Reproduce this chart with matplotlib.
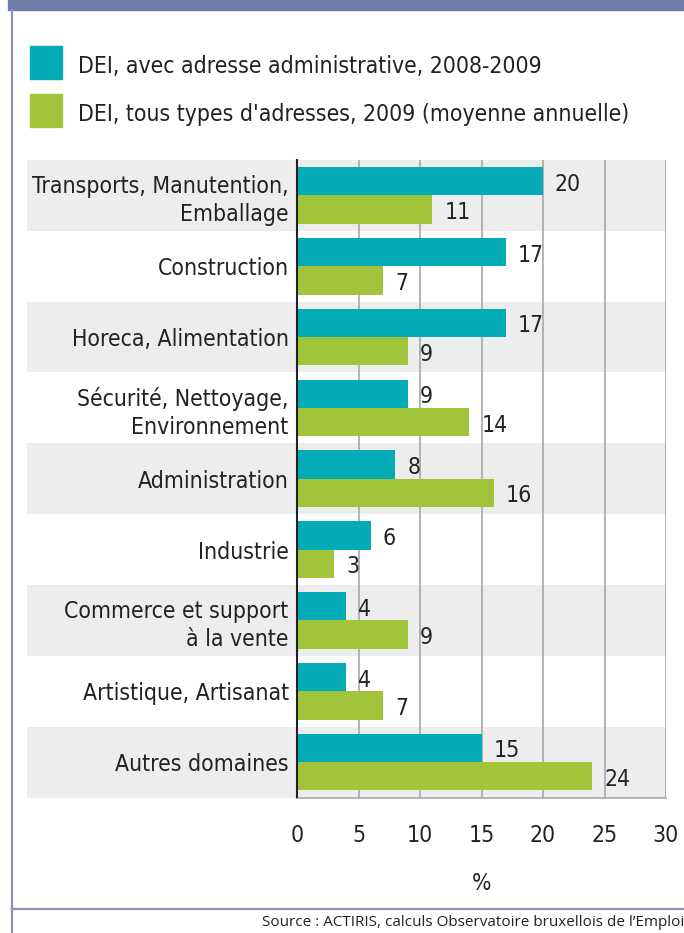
import numpy as np
import matplotlib.pyplot as plt
from matplotlib import font_manager as fm
from matplotlib.patches import Rectangle
from matplotlib.lines import Line2D
import matplotlib.transforms as mtransforms

# the original uses a condensed grotesque: take the narrowest installed match
names = {f.name for f in fm.fontManager.ttflist}
dv_cond = [f for f in fm.fontManager.ttflist
           if f.name == 'DejaVu Sans' and f.stretch in ('condensed', 'semi-condensed')]
if 'Liberation Sans Narrow' in names:
    plt.rcParams['font.family'] = ['Liberation Sans Narrow', 'DejaVu Sans']
    fs = 19
elif dv_cond:
    plt.rcParams['font.family'] = ['DejaVu Sans']
    plt.rcParams['font.stretch'] = 'condensed'
    fs = 16.5
else:
    plt.rcParams['font.family'] = ['Roboto', 'DejaVu Sans']
    fs = 17

categories = ["Transports, Manutention,\nEmballage", "Construction", "Horeca, Alimentation",
              "Sécurité, Nettoyage,\nEnvironnement", "Administration", "Industrie",
              "Commerce et support\nà la vente", "Artistique, Artisanat", "Autres domaines"]
admin = [20, 17, 17, 9, 8, 6, 4, 4, 15]
all_types = [11, 7, 9, 14, 16, 3, 9, 7, 24]
labels = ["DEI, avec adresse administrative, 2008-2009",
          "DEI, tous types d'adresses, 2009 (moyenne annuelle)"]
xticks = [0, 5, 10, 15, 20, 25, 30]

teal = '#02ABB5'
green = '#A0C43A'
band = '#EDEDED'
frame = '#8A91BC'
txt = '#222222'
W, H = 684, 933

fig = plt.figure(figsize=(W / 100, H / 100), dpi=100)

# header bar + frame lines
fig.patches.append(Rectangle((8 / W, 1 - 10 / H), 1, 10 / H, transform=fig.transFigure,
                             color='#717DA9', zorder=0))
fig.lines.append(Line2D([12 / W, 12 / W], [0, 1 - 10 / H], transform=fig.transFigure,
                        color=frame, lw=1.6))
fig.lines.append(Line2D([12 / W, 1], [1 - 909 / H, 1 - 909 / H], transform=fig.transFigure,
                        color=frame, lw=1.6))

ax = fig.add_axes([297 / W, 1 - 797.5 / H, 369 / W, 637.5 / H])
n = len(categories)
y = np.arange(n)
h = 0.40

# alternating grey bands, stretched to the left under the labels
xmin = (27 - 297) / 369
for i in range(0, n, 2):
    ax.axhspan(i - 0.5, i + 0.5, xmin=xmin, xmax=1, color=band, clip_on=False, zorder=0, lw=0)

ax.barh(y - h / 2, admin, height=h, color=teal, zorder=3)
ax.barh(y + h / 2, all_types, height=h, color=green, zorder=3)

dx = mtransforms.offset_copy(ax.transData, fig=fig, x=12, y=-3, units='dots')
for i in range(n):
    ax.text(admin[i], y[i] - h / 2, str(admin[i]), transform=dx, va='center', ha='left',
            fontsize=fs, color=txt)
    ax.text(all_types[i], y[i] + h / 2, str(all_types[i]), transform=dx, va='center', ha='left',
            fontsize=fs, color=txt)

ax.set_xlim(0, 30)
ax.set_ylim(n - 0.5, -0.5)
ax.set_yticks(y)
ax.set_yticklabels(categories, fontsize=fs, color=txt, linespacing=1.3)
ax.set_xticks(xticks)
ax.set_xticklabels([str(t) for t in xticks], fontsize=fs, color=txt)
ax.tick_params(axis='both', length=0)
ax.tick_params(axis='y', pad=6)
ax.tick_params(axis='x', pad=19)
ax.xaxis.grid(True, color='#A8A8A8', lw=1.2, zorder=1)
ax.set_axisbelow(True)
ax.set_facecolor('none')
for s in ['top', 'right']:
    ax.spines[s].set_visible(False)
ax.spines['left'].set_color(txt)
ax.spines['left'].set_linewidth(1.5)
ax.spines['left'].set_zorder(4)
ax.spines['bottom'].set_color('#A8A8A8')
ax.spines['bottom'].set_linewidth(1.2)
ax.set_xlabel('%', fontsize=fs, color=txt, labelpad=18)

# legend drawn by hand
for k, (lab, col) in enumerate(zip(labels, [teal, green])):
    top = 46 + 48 * k
    fig.patches.append(Rectangle((30 / W, 1 - (top + 33) / H), 32 / W, 33 / H,
                                 transform=fig.transFigure, color=col))
    fig.text(78 / W, 1 - (top + 27) / H, lab, fontsize=fs, color=txt, va='baseline', ha='left')

fig.text(1.0, 1 - 922 / H, "Source : ACTIRIS, calculs Observatoire bruxellois de l\u2019Emploi",
         fontsize=11, family=['Open Sans', 'DejaVu Sans'], stretch='normal', color=txt,
         ha='right', va='center')

fig.savefig('out.png', dpi=100)
